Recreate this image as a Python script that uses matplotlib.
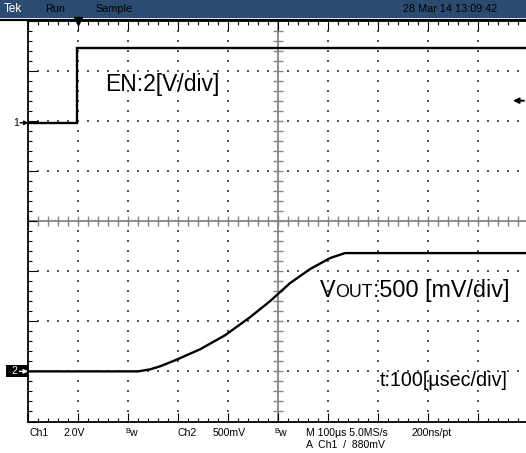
import numpy as np
import matplotlib
matplotlib.use('Agg')
import matplotlib.pyplot as plt
from matplotlib.patches import Rectangle
from matplotlib.lines import Line2D
from matplotlib.ticker import MultipleLocator
from matplotlib.transforms import blended_transform_factory

# ---------------- data ----------------
en_t = [-100, -2, -2, 900]            # µs
en_v = [0.0, 0.0, 3.0, 3.0]           # V
vout_t = [-100, 120, 144, 164, 194, 244, 294, 344, 384, 424, 464, 504, 534, 564, 900]
vout_v = [0.0, 0.0, 0.02, 0.05, 0.11, 0.22, 0.36, 0.54, 0.70, 0.88, 1.02, 1.13, 1.18, 1.18, 1.18]

time_per_div = 100     # µs/div
ch1_scale = 2.0        # V/div
ch1_pos = 1.96         # div
ch2_scale = 0.5        # V/div
ch2_pos = -3.0         # div
trig_level = 0.88      # V
header_items = ["Tek", "Run", "Sample"]
header_date = "28 Mar 14 13:09:42"
label_en = "EN:2[V/div]"
label_vout = ["V", "OUT", ":500 [mV/div]"]
label_t = "t:100[µsec/div]"

# ---------------- figure ----------------
W, H = 526, 453
fig = plt.figure(figsize=(W / 100, H / 100), dpi=100)
fig.patch.set_facecolor('white')
FONT = ['Liberation Sans', 'DejaVu Sans']

def fx(x):
    return x / W

def fy(y):
    return 1 - y / H

left_px, top_px, right_px, bot_px = 28, 20.5, 528, 421.5
ax = fig.add_axes([fx(left_px), fy(bot_px), (right_px - left_px) / W, (bot_px - top_px) / H])
t0 = -time_per_div
t1 = t0 + 10 * time_per_div
ax.set_xlim(t0, t1)
ax.set_ylim(-4, 4)

# graticule
minor_x = np.arange(t0, t1 + 1, time_per_div / 5)
minor_y = np.arange(-4, 4.001, 0.2)
dot_c = '#555555'
for yv in [-3, -2, -1, 1, 2, 3]:
    ax.scatter(minor_x, np.full_like(minor_x, yv, dtype=float), s=1.6, marker='s',
               color=dot_c, linewidths=0, zorder=1)
for k in [1, 2, 3, 4, 6, 7, 8, 9]:
    xv = t0 + k * time_per_div
    ax.scatter(np.full_like(minor_y, xv), minor_y, s=1.6, marker='s',
               color=dot_c, linewidths=0, zorder=1)
xc = t0 + 5 * time_per_div
gc = '#858585'
ax.axhline(0, color=gc, lw=1.3, zorder=1)
ax.axvline(xc, color=gc, lw=1.3, zorder=1)
ax.plot(minor_x, np.zeros_like(minor_x), ls='none', marker='|', ms=6.5, mew=1.0, color=gc, zorder=1)
ax.plot(np.full_like(minor_y, xc), minor_y, ls='none', marker='_', ms=6.5, mew=1.0, color=gc, zorder=1)

ax.xaxis.set_major_locator(MultipleLocator(time_per_div))
ax.xaxis.set_minor_locator(MultipleLocator(time_per_div / 5))
ax.yaxis.set_major_locator(MultipleLocator(1))
ax.yaxis.set_minor_locator(MultipleLocator(0.2))
ax.tick_params(which='both', direction='in', top=True, right=True, bottom=True, left=True,
               labelbottom=False, labelleft=False, color='black', width=0.8)
ax.tick_params(which='major', length=6.5)
ax.tick_params(which='minor', length=3)
for s in ax.spines.values():
    s.set_linewidth(1.3)
    s.set_color('black')

# trigger position marker
ax.plot([0], [4], marker='v', ms=6, color='black', clip_on=False, zorder=5)

# channel 1 (EN)
ax1 = ax.twinx()
ax1.set_ylim((-4 - ch1_pos) * ch1_scale, (4 - ch1_pos) * ch1_scale)
ax1.set_axis_off()
ax1.plot(en_t, en_v, color='black', lw=1.7, solid_joinstyle='miter')

# channel 2 (VOUT)
ax2 = ax.twinx()
ax2.set_ylim((-4 - ch2_pos) * ch2_scale, (4 - ch2_pos) * ch2_scale)
ax2.set_axis_off()
ax2.plot(vout_t, vout_v, color='black', lw=1.7)

mix = ('figure fraction', 'data')
# ch1 ground marker
ax1.annotate('1', xy=(fx(16), 0), xycoords=mix, ha='center', va='center',
             fontsize=7.5, family=FONT, annotation_clip=False)
ax1.annotate('', xy=(fx(28.5), 0), xytext=(fx(20), 0), xycoords=mix, textcoords=mix,
             arrowprops=dict(arrowstyle='-|>', color='black', lw=1.0, mutation_scale=6,
                             shrinkA=0, shrinkB=0), annotation_clip=False)
# trigger level marker
ax1.annotate('', xy=(fx(513), trig_level), xytext=(fx(524), trig_level), xycoords=mix,
             textcoords=mix,
             arrowprops=dict(arrowstyle='-|>', color='black', lw=1.4, mutation_scale=8,
                             shrinkA=0, shrinkB=0), annotation_clip=False)
# ch2 ground marker
px_v = ch2_scale / ((bot_px - top_px) / 8)
tr2 = blended_transform_factory(fig.transFigure, ax2.transData)
fig.patches.append(Rectangle((fx(6), -6 * px_v), fx(22.5), 12 * px_v, transform=tr2,
                             facecolor='black', edgecolor='none', zorder=-1))
ax2.annotate('2', xy=(fx(14), 0), xycoords=mix, ha='center', va='center', color='white',
             fontsize=7.5, family=FONT, annotation_clip=False, zorder=4)
ax2.annotate('', xy=(fx(28), 0), xytext=(fx(19.5), 0), xycoords=mix, textcoords=mix,
             arrowprops=dict(arrowstyle='-|>', color='white', lw=1.0, mutation_scale=6,
                             shrinkA=0, shrinkB=0), annotation_clip=False, zorder=4)

# header bar
fig.patches.append(Rectangle((0, fy(18)), 1, 18 / H, transform=fig.transFigure,
                             facecolor='#2b4c70', edgecolor='none', zorder=-1))
fig.lines.append(Line2D([0, 1], [fy(20), fy(20)], transform=fig.transFigure,
                        color='black', lw=1.6))
hx = [4, 45, 95]
hc = ['white', 'black', 'black']
hs = [8.5, 7.8, 7.8]
for txt, x, c, sz in zip(header_items, hx, hc, hs):
    fig.text(fx(x), fy(9), txt, color=c, fontsize=sz, va='center', family=FONT)
fig.text(fx(403), fy(9), header_date, color='black', fontsize=7.8, va='center', family=FONT)

# bottom status lines
fs = 7.6
y1, y2 = 433, 445.5
fig.text(fx(29), fy(y1), 'Ch1', fontsize=fs, va='center', family=FONT)
fig.text(fx(64), fy(y1), f'{ch1_scale:.1f}V', fontsize=fs, va='center', family=FONT)
fig.text(fx(177), fy(y1), 'Ch2', fontsize=fs, va='center', family=FONT)
fig.text(fx(213), fy(y1), f'{ch2_scale * 1000:.0f}mV', fontsize=fs, va='center', family=FONT)
for bx in [125, 274]:
    fig.text(fx(bx), fy(y1 - 1.5), 'B', fontsize=5.2, va='center', family=FONT)
    fig.text(fx(bx + 4.5), fy(y1), 'w', fontsize=fs, va='center', family=FONT)
fig.text(fx(306), fy(y1), f'M {time_per_div}µs 5.0MS/s', fontsize=fs, va='center', family=FONT)
fig.text(fx(412), fy(y1), '200ns/pt', fontsize=fs, va='center', family=FONT)
fig.text(fx(306), fy(y2), f'A  Ch1  /  {trig_level * 1000:.0f}mV', fontsize=fs, va='center',
         family=FONT)

# annotations
big = 16.8
small = 12.8
fig.text(fx(105), fy(84), label_en, fontsize=16.5, va='center', family=FONT)
tv = fig.text(fx(320), fy(297), label_vout[0], fontsize=big, va='baseline', family=FONT)
dd = (big - small) * 0.21
to = ax.annotate(label_vout[1], xy=(1, 0), xycoords=tv, xytext=(0, dd), textcoords='offset points',
                 va='bottom', ha='left', fontsize=small, family=FONT, annotation_clip=False)
ax.annotate(label_vout[2], xy=(1, 0), xycoords=to, xytext=(0, -dd), textcoords='offset points',
            va='bottom', ha='left', fontsize=big, family=FONT, annotation_clip=False)
fig.text(fx(380), fy(380), label_t, fontsize=14.2, va='center', family=FONT)

fig.savefig('out.png', dpi=100)
